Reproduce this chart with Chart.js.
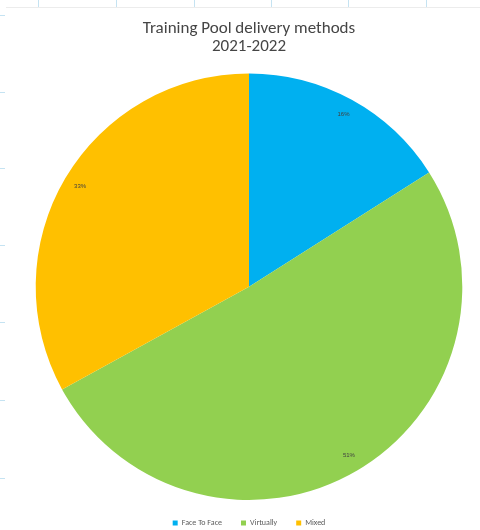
<!DOCTYPE html>
<html>
<head>
<meta charset="utf-8">
<script src="https://cdn.jsdelivr.net/npm/chart.js@4/dist/chart.umd.min.js"></script>
<style>
  html, body { margin: 0; padding: 0; background: #fff; }
  #wrap { position: relative; width: 480px; height: 530px; }
  canvas { display: block; }
</style>
</head>
<body>
<div id="wrap"><canvas id="c" width="480" height="530"></canvas></div>
<script>
const categories = ["Face To Face", "Virtually", "Mixed"];
const values = [16, 51, 33];
const valueLabels = ["16%", "51%", "33%"];
const colors = ["#00B0F0", "#92D050", "#FFC000"];
const titleLines = ["Training Pool delivery methods", "2021-2022"];

const labelPlugin = {
  id: 'sliceLabels',
  afterDatasetsDraw(chart) {
    const ctx = chart.ctx;
    const meta = chart.getDatasetMeta(0);
    ctx.save();
    ctx.font = '6px "Liberation Sans", Arial, sans-serif';
    ctx.fillStyle = '#404040';
    ctx.textAlign = 'center';
    ctx.textBaseline = 'middle';
    meta.data.forEach((arc, i) => {
      const p = arc.getProps(['x', 'y', 'startAngle', 'endAngle', 'outerRadius'], true);
      const mid = (p.startAngle + p.endAngle) / 2;
      const r = p.outerRadius * 0.92;
      ctx.fillText(valueLabels[i], p.x + Math.cos(mid) * r, p.y + Math.sin(mid) * r);
    });
    ctx.restore();
  }
};

const framePlugin = {
  id: 'frame',
  beforeDraw(chart) {
    const ctx = chart.ctx;
    ctx.save();
    ctx.fillStyle = '#fff';
    ctx.fillRect(0, 0, chart.width, chart.height);
    ctx.strokeStyle = '#c5e3f2';
    ctx.lineWidth = 1;
    [38, 116, 194, 271, 348, 426].forEach(x => {
      ctx.beginPath(); ctx.moveTo(x + 0.5, 0); ctx.lineTo(x + 0.5, 7); ctx.stroke();
    });
    [15, 92, 168, 245, 322, 400, 478].forEach(y => {
      ctx.beginPath(); ctx.moveTo(0, y + 0.5); ctx.lineTo(5, y + 0.5); ctx.stroke();
    });
    ctx.strokeStyle = '#ececec';
    ctx.beginPath(); ctx.moveTo(6, 7.5); ctx.lineTo(480, 7.5); ctx.stroke();
    ctx.restore();
  }
};

new Chart(document.getElementById('c'), {
  type: 'pie',
  data: {
    labels: categories,
    datasets: [{
      data: values,
      backgroundColor: colors,
      borderWidth: 0
    }]
  },
  options: {
    responsive: false,
    animation: false,
    layout: { padding: { top: 10, left: 18, right: 0, bottom: -7 } },
    plugins: {
      title: {
        display: true,
        text: titleLines,
        color: '#454545',
        font: { family: 'Carlito, "Open Sans", sans-serif', size: 17, weight: 'normal', lineHeight: 1.1 },
        padding: { top: 9, bottom: 17 }
      },
      legend: {
        position: 'bottom',
        labels: {
          color: '#595959',
          font: { family: 'Carlito, "Liberation Sans", sans-serif', size: 8 },
          boxWidth: 5,
          boxHeight: 5,
          padding: 19
        }
      },
      tooltip: { enabled: false }
    }
  },
  plugins: [framePlugin, labelPlugin]
});
</script>
</body>
</html>
